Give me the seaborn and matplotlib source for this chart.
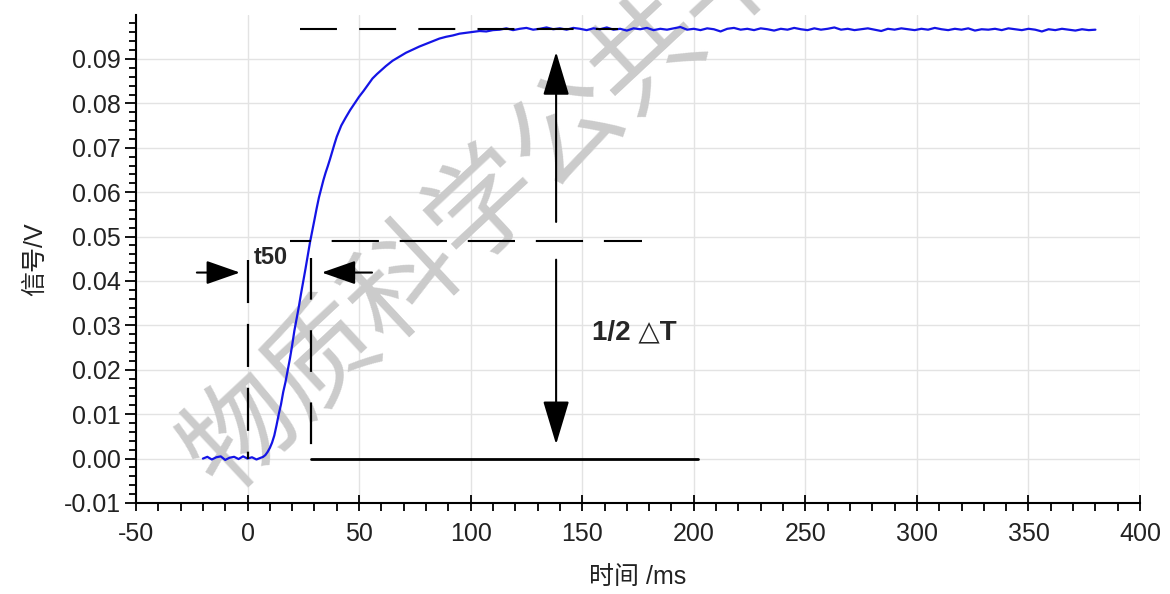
import pandas as pd
import seaborn as sns
import matplotlib.pyplot as plt
from matplotlib.ticker import MultipleLocator, FormatStrFormatter

baseline_t = list(range(-20, 7, 2))
baseline_v = [0.0000, 0.0004, -0.0002, 0.0003, 0.0005, -0.0003, 0.0002,
              0.0004, -0.0001, 0.0005, 0.0000, 0.0003, -0.0002, 0.0002]

rise_t = list(range(7, 41))
rise_v = [0.0004, 0.0008, 0.0015, 0.0024, 0.0036, 0.0052, 0.0075, 0.0100,
          0.0122, 0.0150, 0.0172, 0.0198, 0.0225, 0.0255, 0.0288, 0.0315,
          0.0342, 0.0372, 0.0400, 0.0428, 0.0458, 0.0487, 0.0512, 0.0538,
          0.0564, 0.0588, 0.0608, 0.0627, 0.0644, 0.0659, 0.0675, 0.0692,
          0.0709, 0.0725]

knee_t = list(range(42, 63, 2)) + list(range(65, 111, 3))
knee_v = [0.0750, 0.0768, 0.0785, 0.0800, 0.0815, 0.0828, 0.0842, 0.0856,
          0.0866, 0.0875, 0.0884,
          0.0896, 0.0905, 0.0914, 0.0921, 0.0928, 0.0934, 0.0940, 0.0946,
          0.0950, 0.0953, 0.0957, 0.0959, 0.0961, 0.0963, 0.0962, 0.0965]

plateau_t = list(range(113, 381, 3))
plateau_v = [0.0966, 0.0969, 0.0965, 0.0968, 0.0970, 0.0966, 0.0968, 0.0971, 0.0967, 0.0969,
             0.0966, 0.0970, 0.0968, 0.0965, 0.0969, 0.0967, 0.0971, 0.0966, 0.0968, 0.0964,
             0.0969, 0.0967, 0.0970, 0.0965, 0.0968, 0.0966, 0.0969, 0.0972, 0.0966, 0.0968,
             0.0965, 0.0969, 0.0967, 0.0962, 0.0968, 0.0970, 0.0966, 0.0968, 0.0965, 0.0969,
             0.0967, 0.0964, 0.0968, 0.0966, 0.0970, 0.0967, 0.0965, 0.0969, 0.0966, 0.0968,
             0.0971, 0.0966, 0.0968, 0.0965, 0.0967, 0.0969, 0.0966, 0.0963, 0.0968, 0.0966,
             0.0969, 0.0967, 0.0965, 0.0968, 0.0966, 0.0970, 0.0967, 0.0965, 0.0968, 0.0966,
             0.0969, 0.0964, 0.0967, 0.0966, 0.0968, 0.0965, 0.0969, 0.0967, 0.0965, 0.0968,
             0.0966, 0.0962, 0.0967, 0.0965, 0.0968, 0.0966, 0.0964, 0.0967, 0.0965, 0.0966]

x_ticks = [-50, 0, 50, 100, 150, 200, 250, 300, 350, 400]
y_ticks = [-0.01, 0.00, 0.01, 0.02, 0.03, 0.04, 0.05, 0.06, 0.07, 0.08, 0.09]

# reading of the annotation construction
t_start = 0
t_50 = 28.3
v_final = 0.0968
v_half = 0.049

df = pd.DataFrame({
    'time_ms': baseline_t + rise_t + knee_t + plateau_t,
    'signal_v': baseline_v + rise_v + knee_v + plateau_v,
})

sns.set_theme(style='whitegrid')
plt.rcParams['font.family'] = ['Liberation Sans Narrow', 'Liberation Sans', 'DejaVu Sans', 'Noto Sans CJK SC']
plt.rcParams['axes.unicode_minus'] = False
plt.rcParams['lines.scale_dashes'] = False

fig = plt.figure(figsize=(11.7, 5.94), dpi=100)
ax = fig.add_axes([0.1162, 0.1532, 0.8582, 0.8215])

sns.lineplot(data=df, x='time_ms', y='signal_v', color='#1414e6', lw=1.6, ax=ax, zorder=3)

# construction lines
ax.plot([23.5, 166], [v_final, v_final], color='black', lw=1.5, ls=(0, (26.6, 16)), zorder=4)
ax.plot([19, 177], [v_half, v_half], color='black', lw=1.5, ls=(19, (34, 15)), zorder=4)
ax.plot([t_start, t_start], [0.0448, 0.0], color='black', lw=1.6, ls=(0, (31, 15)), zorder=4)
ax.plot([t_50, t_50], [0.0452, 0.0027], color='black', lw=1.6, ls=(0, (30, 22)), zorder=4)
ax.plot([t_50, 202], [0.0, 0.0], color='black', lw=2.0, zorder=4)

head_v = dict(arrowstyle='-|>,head_length=1.1,head_width=0.33', color='black', lw=1.5,
              mutation_scale=25, shrinkA=0, shrinkB=0)
ax.annotate('', xy=(138.3, 0.0916), xytext=(138.3, 0.0533), arrowprops=head_v, zorder=5)
ax.annotate('', xy=(138.3, 0.0032), xytext=(138.3, 0.0448), arrowprops=head_v, zorder=5)

head_h = dict(arrowstyle='-|>,head_length=1.0,head_width=0.35', color='black', lw=1.5,
              mutation_scale=21, shrinkA=0, shrinkB=0)
ax.annotate('', xy=(-3.4, 0.0419), xytext=(-22.7, 0.0419), arrowprops=head_h, zorder=5)
ax.annotate('', xy=(33.3, 0.0419), xytext=(55.8, 0.0419), arrowprops=head_h, zorder=5)

ax.text(3.0, 0.0454, 't50', fontsize=17, fontweight='bold', ha='left', va='center', zorder=5)
ax.text(154.5, 0.0284, '1/2 \u25b3T', fontsize=20, fontweight='bold', ha='left', va='center', zorder=5)

# watermark
ax.text(0.172, 0.205, '物质科学公共平台', transform=fig.transFigure, fontsize=80,
        family=['Noto Sans CJK SC'], color='#cbcbcb', rotation=43, rotation_mode='anchor',
        ha='left', va='center', zorder=1.5, clip_on=False)

ax.set_xlim(-50, 400)
ax.set_ylim(-0.01, 0.0999)
ax.set_xticks(x_ticks)
ax.set_yticks(y_ticks)
ax.yaxis.set_major_formatter(FormatStrFormatter('%.2f'))
ax.xaxis.set_minor_locator(MultipleLocator(10))
ax.yaxis.set_minor_locator(MultipleLocator(0.002))

ax.grid(True, which='major', color='#e3e3e3', lw=1.0)
ax.grid(False, which='minor')
ax.set_facecolor('white')
for side in ['top', 'right']:
    ax.spines[side].set_visible(False)
for side in ['left', 'bottom']:
    ax.spines[side].set_color('black')
    ax.spines[side].set_linewidth(1.5)

ax.tick_params(axis='x', which='both', bottom=True, top=False)
ax.tick_params(axis='y', which='both', left=True, right=False)
ax.tick_params(axis='x', which='major', direction='inout', length=11, width=1.3, color='black',
               labelsize=18, pad=8, labelcolor='#222222')
ax.tick_params(axis='x', which='minor', direction='out', length=6, width=1.3, color='black')
ax.tick_params(axis='y', which='major', direction='out', length=8, width=1.3, color='black',
               labelsize=18, pad=3, labelcolor='#222222')
ax.tick_params(axis='y', which='minor', direction='out', length=5, width=1.3, color='black')

ax.set_xlabel('时间 /ms', fontsize=18, labelpad=14, color='#222222')
ax.set_ylabel('信号/V', fontsize=18, labelpad=12, color='#222222')

fig.savefig('out.png', dpi=100)
